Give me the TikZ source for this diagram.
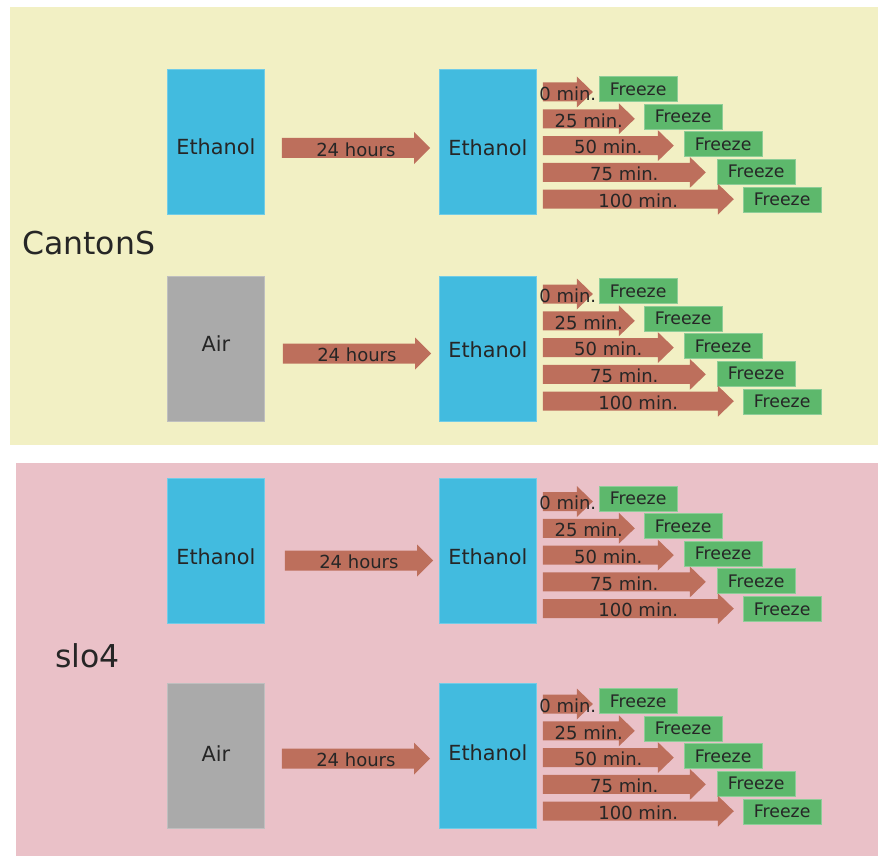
\documentclass[tikz,border=0pt]{standalone}
\usepackage{fontspec}
\setmainfont{DejaVu Sans}
\usetikzlibrary{calc}

\definecolor{panelyellow}{HTML}{F2F0C4}
\definecolor{panelpink}{HTML}{EAC1C8}
\definecolor{boxblue}{HTML}{42BBDF}
\definecolor{boxgray}{HTML}{AAAAAA}
\definecolor{arrowbrown}{HTML}{BD6F5C}
\definecolor{freezegreen}{HTML}{5DB86C}
\definecolor{ink}{HTML}{262626}

\tikzset{
  tank/.style={fill=#1, draw=#1!75!white, line width=0.8pt,
    minimum width=97pt, minimum height=145pt, inner sep=0pt},
  tanklabel/.style={text=ink, inner sep=0pt, font=\fontsize{20.8}{24}\selectfont},
  freezebox/.style={fill=freezegreen, draw=freezegreen!70!white, line width=0.8pt,
    minimum width=78pt, minimum height=25pt, inner sep=0pt,
    text=ink, font=\fontsize{17.3}{20}\selectfont},
  steplabel/.style={text=ink, inner sep=0pt, font=\fontsize{18}{21}\selectfont},
  strain/.style={text=ink, inner sep=0pt, font=\fontsize{31.5}{36}\selectfont},
}

% block arrow from coordinate #1 to tip #2; body half-height #3,
% head half-height #4, head length #5, label #6
\newcommand{\flowarrow}[6]{%
  \fill[arrowbrown] let \p1=(#1), \p2=(#2) in
    (\x1,\y1+#3) -- (\x2-#5,\y1+#3) -- (\x2-#5,\y1+#4) -- (\x2,\y1)
    -- (\x2-#5,\y1-#4) -- (\x2-#5,\y1-#3) -- (\x1,\y1-#3) -- cycle;
  \path (#1) -- (#2) node[midway, yshift=-1.5pt, steplabel] {#6};
}

% one treatment: #1 id, #2 top of the tanks, #3 first tank colour,
% #4 first tank text, #5 text height in first tank, #6 text height in
% second tank, #7 height of the 24 h arrow, #8 its x shift, #9 first timed row
\newcommand{\stage}[9]{%
  \node[tank=#3, anchor=north west] (#1L) at (167,#2) {};
  \node[tank=boxblue, anchor=north west] (#1R) at (439,#2) {};
  \node[tanklabel] (#1Lt) at (#1L.center |- 0,#5) {#4};
  \node[tanklabel] (#1Rt) at (#1R.center |- 0,#6) {Ethanol};
  \coordinate (#1a) at ($(#1L.east |- 0,#7)+(17+#8,0)$);
  \coordinate (#1b) at ($(#1R.west |- 0,#7)+(-9+#8,0)$);
  \flowarrow{#1a}{#1b}{10pt}{16pt}{16pt}{24 hours}
  \foreach \i/\tip/\fx/\lab in {0/50/62/0 min.,1/92/107/25 min.,2/131/147/50 min.,
      3/163/180/75 min.,4/191/206/100 min.}{
    \coordinate (#1s\i) at ($(#1R.east |- 0,#9+26.8*\i)+(6,0)$);
    \coordinate (#1t\i) at ($(#1s\i)+(\tip,0)$);
    \flowarrow{#1s\i}{#1t\i}{9.5pt}{15.5pt}{16pt}{\lab}
    \node[freezebox, anchor=west] (#1f\i) at ($(#1R.east |- 0,#9-3+27.6*\i)+(\fx,0)$) {Freeze};
  }
}

\begin{document}
\begin{tikzpicture}[x=1pt, y=-1pt]
  \useasboundingbox (0,0) rectangle (878,856);
  \fill[white] (0,0) rectangle (878,856);

  % the two strain panels
  \fill[panelyellow] (10,7) rectangle (878,445);
  \fill[panelpink] (16,463) rectangle (878,856);

  \node[strain, anchor=west] (canton) at (22,243.5) {CantonS};
  \node[strain, anchor=west] (slo) at (55,656) {slo4};

  \stage{A}{69}{boxblue}{Ethanol}{146.5}{148}{148}{0}{92}
  \stage{B}{276}{boxgray}{Air}{344}{349.5}{353.5}{1}{294}
  \stage{C}{478}{boxblue}{Ethanol}{557}{557}{560.5}{3}{501.5}
  \stage{D}{683}{boxgray}{Air}{753.5}{753}{758.5}{0}{704}
\end{tikzpicture}
\end{document}
